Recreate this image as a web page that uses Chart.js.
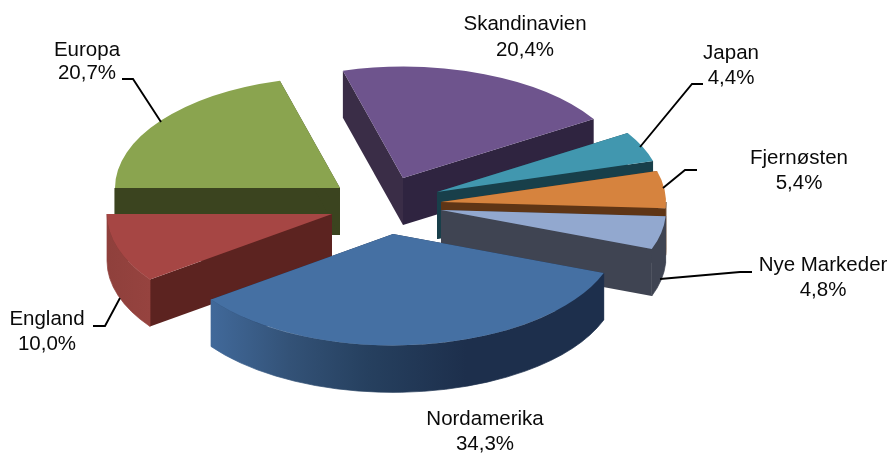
<!DOCTYPE html>
<html><head><meta charset="utf-8">
<style>html,body{margin:0;padding:0;background:#fff}canvas{display:block}</style>
<script src="https://cdn.jsdelivr.net/npm/chart.js@4"></script></head>
<body><canvas id="c" width="890" height="453"></canvas>
<script>
const categories = ["Nordamerika","England","Europa","Skandinavien","Japan","Fjernøsten","Nye Markeder"];
const shares = [34.3,10.0,20.7,20.4,4.4,5.4,4.8];
const topColors = ["#4570a3","#a64644","#8aa44f","#6e548d","#4197af","#d6833e","#92a8cf"];
const cutColorsStart = ["#1d2f4c","#5c2320","#3b441f","#3a2d47","#183f4a","#5f3515","#3f4452"];
const cutColorsEnd = ["#1d2f4c","#5c2320","#3b441f","#2f2440","#183f4a","#5f3515","#3f4452"];
const wallStops = [
 [[0,"#1d2f4c"],[0.35,"#1d2f4c"],[0.6,"#26405f"],[0.8,"#335277"],[1,"#41699a"]],
 [[0,"#96433f"],[1,"#8f403c"]],
 [[0,"#3b441f"],[1,"#3b441f"]],
 [[0,"#3a2d47"],[1,"#3a2d47"]],
 [[0,"#183f4a"],[1,"#183f4a"]],
 [[0,"#5f3515"],[1,"#5f3515"]],
 [[0,"#3f4452"],[1,"#3f4452"]]
];
// painter's order, back to front
const drawOrder = [2,3,4,5,6,1,0];
// apex of every exploded slice on the page
const apexX = [393,332,340,403,437,441,441];
const apexY = [234,214,188,178,192,202,210];
const squash = 0.495, depth = 47;
const labelX = [485,47,87,525,731,799,823];
const labelY = [[419,444],[319,344],[50,73],[24,50],[53,78],[158,183],[265,290]];
const leaders = [null,
 [[93,326],[105,326],[120,298]],
 [[122,79],[133,79],[161,122]],
 null,
 [[640,147],[692,84],[703,84]],
 [[663,188],[685,170],[697,170]],
 [[660,279],[740,272],[752,272]]];

const pie3d = {
  id:"pie3d",
  beforeDatasetDraw(chart,args){
    const ctx = chart.ctx, arcs = args.meta.data;
    drawOrder.forEach(i=>{
      const arc = arcs[i];
      const p = arc.getProps(["x","y","startAngle","endAngle","outerRadius"],true);
      const ax = apexX[i], ay = apexY[i], r = p.outerRadius;
      const rim = t=>[ax+r*Math.cos(t), ay+r*squash*Math.sin(t)];
      const cut = (t,col)=>{
        const [x,y] = rim(t);
        ctx.fillStyle = col;
        ctx.beginPath();
        ctx.moveTo(ax,ay);ctx.lineTo(x,y);ctx.lineTo(x,y+depth);ctx.lineTo(ax,ay+depth);
        ctx.closePath();ctx.fill();
      };
      cut(p.startAngle,cutColorsStart[i]);
      cut(p.endAngle,cutColorsEnd[i]);
      // outer wall: only the part of the rim that faces the viewer
      [0,2*Math.PI,-2*Math.PI].forEach(k=>{
        const a = Math.max(p.startAngle,k), b = Math.min(p.endAngle,k+Math.PI);
        if(b<=a) return;
        const x0 = Math.min(rim(a)[0],rim(b)[0]), x1 = Math.max(rim(a)[0],rim(b)[0]);
        const g = ctx.createLinearGradient(x1,0,x0,0);
        wallStops[i].forEach(s=>g.addColorStop(s[0],s[1]));
        ctx.fillStyle = g;
        ctx.strokeStyle = g;
        ctx.lineWidth = 0.7;
        ctx.beginPath();
        ctx.ellipse(ax,ay,r,r*squash,0,a,b);
        ctx.ellipse(ax,ay+depth,r,r*squash,0,b,a,true);
        ctx.closePath();ctx.fill();ctx.stroke();
      });
      // top face: the library's own arc, squashed and moved to its exploded place
      ctx.save();
      ctx.translate(ax,ay);ctx.scale(1,squash);ctx.translate(-p.x,-p.y);
      arc.draw(ctx);
      ctx.restore();
    });
    return false;
  },
  afterDatasetsDraw(chart){
    const ctx = chart.ctx;
    ctx.save();
    ctx.strokeStyle="#000";ctx.lineWidth=1.9;ctx.lineJoin="miter";
    leaders.forEach(l=>{
      if(!l) return;
      ctx.beginPath();l.forEach((q,k)=>k?ctx.lineTo(q[0],q[1]):ctx.moveTo(q[0],q[1]));ctx.stroke();
    });
    ctx.fillStyle="#0a0a0a";ctx.font='20.5px "Liberation Sans", Arial, sans-serif';
    ctx.textAlign="center";ctx.textBaseline="middle";
    categories.forEach((name,i)=>{
      ctx.fillText(name,labelX[i],labelY[i][0]);
      ctx.fillText(shares[i].toFixed(1).replace(".",",")+"%",labelX[i],labelY[i][1]);
    });
    ctx.restore();
  }
};

new Chart(document.getElementById("c"),{
  type:"pie",
  data:{labels:categories,datasets:[{data:shares,backgroundColor:topColors,borderWidth:0,offset:0}]},
  options:{
    responsive:false,animation:false,rotation:110.5,radius:225,
    layout:{padding:0},
    plugins:{legend:{display:false},tooltip:{enabled:false},title:{display:false}}
  },
  plugins:[pie3d]
});
</script></body></html>
